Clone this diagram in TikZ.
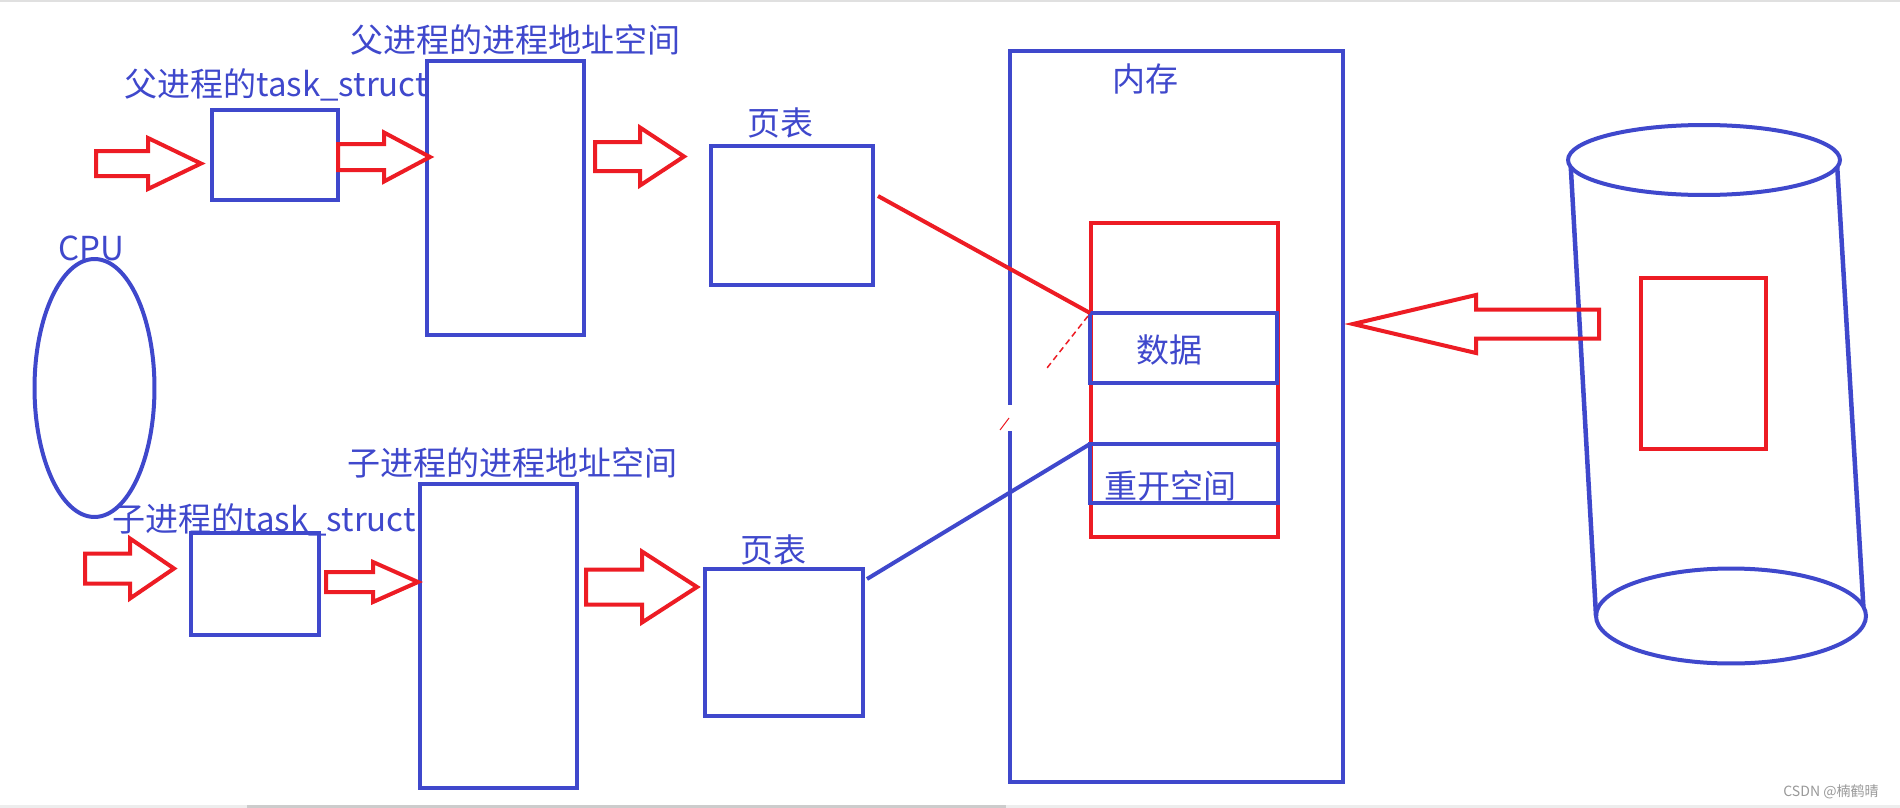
\documentclass[tikz,border=0pt]{standalone}
\usepackage{fontspec}
\newfontfamily\cjk{Noto Sans CJK SC}
\usetikzlibrary{fit,shapes.geometric}
\definecolor{pblue}{HTML}{3F48CC}
\definecolor{pred}{HTML}{ED1C24}
\newcommand\blockarrow[6]{\draw[barrow] (#1,#4-#5) -- (#2,#4-#5) -- (#2,#4-#6) -- (#3,#4) -- (#2,#4+#6) -- (#2,#4+#5) -- (#1,#4+#5) -- cycle;}
\begin{document}
\begin{tikzpicture}[x=0.02cm, y=-0.02cm,
  box/.style={draw=pblue, line width=0.08cm, inner sep=0pt, outer sep=0pt},
  redbox/.style={draw=pred, line width=0.08cm, inner sep=0pt, outer sep=0pt},
  lbl/.style={text=pblue, font=\cjk\fontsize{18.8pt}{22pt}\selectfont, inner sep=0pt, anchor=west},
  barrow/.style={draw=pred, line width=0.08cm, line join=miter},
  oval/.style={draw=pblue, ellipse, line width=0.08cm, inner sep=0pt, outer sep=0pt},
  link/.style={line width=0.08cm},
]
\useasboundingbox (0,0) rectangle (1900,808);
\fill[white] (0,0) rectangle (1900,808);
\fill[black!12] (0,0) rectangle (1900,2);
\fill[black!7] (0,805) rectangle (1900,808);
\fill[black!20] (247,805) rectangle (1006,808);

% memory and its contents
\node[box, fit={(1010,51) (1343,782)}] (mem) {};
\node[redbox, fit={(1091,223) (1278,537)}] (rbox) {};
\node[box, fit={(1090,313) (1277,383)}] (data) {};
\node[box, fit={(1090,444) (1278,503)}] (reopen) {};
\fill[white] (1004,405) rectangle (1016,431);
\draw[pred, line width=0.02cm] (1009,418) -- (1000,430);

% parent
\node[box, fit={(212,110) (338,200)}] (ptask) {};
\node[box, fit={(427,61) (584,335)}] (paddr) {};
\node[box, fit={(711,146) (873,285)}] (ppt) {};
% child
\node[box, fit={(191,533) (319,635)}] (ctask) {};
\node[box, fit={(420,484) (577,788)}] (caddr) {};
\node[box, fit={(705,569) (863,716)}] (cpt) {};

% CPU
\node[oval, minimum width=2.4cm, minimum height=5.16cm] (cpu) at (94.5,388) {};

% disk
\node[oval, minimum width=5.44cm, minimum height=1.4cm] (dtop) at (1704,160) {};
\node[oval, minimum width=5.4cm, minimum height=1.9cm] (dbot) at (1731,616) {};
\draw[pblue, line width=0.09cm] (dtop.183) -- (dbot.west);
\draw[pblue, line width=0.09cm] (dtop.-3) -- (dbot.4);
\node[redbox, fit={(1641,278) (1766,449)}] (drect) {};

% connectors
\draw[link, pred] ([shift={(5,-19.5)}]ppt.east) -- (data.north west);
\draw[pred, line width=0.03cm, dash pattern=on 0.12cm off 0.08cm] ([shift={(-2,3)}]data.north west) -- (1047,368);
\draw[link, pblue] ([shift={(4,10)}]cpt.north east) -- (reopen.north west);

% block arrows
\blockarrow{96}{148}{201}{163.5}{12.5}{25.5}
\blockarrow{338}{384}{430}{157}{13}{24.5}
\blockarrow{595}{640}{684}{156.5}{14.5}{29}
\blockarrow{85}{130}{174}{568.5}{15}{30}
\blockarrow{326}{373}{418}{582}{10}{20}
\blockarrow{586}{642}{697}{587}{17.5}{35.5}
\blockarrow{1599}{1476}{1353}{324}{14.5}{29}

% labels
\node[lbl] (tpaddr) at (350,40) {父进程的进程地址空间};
\node[lbl] (tptask) at (124,85) {父进程的task\_struct};
\node[lbl] (tppt) at (747,123) {页表};
\node[lbl] (tmem) at (1112,79) {内存};
\node[lbl] (tdata) at (1136,350) {数据};
\node[lbl] (treopen) at (1104,486) {重开空间};
\node[lbl] (tcpu) at (58,248) {CPU};
\node[lbl] (tcaddr) at (347,463) {子进程的进程地址空间};
\node[lbl] (tctask) at (112,520) {子进程的task\_struct};
\node[lbl] (tcpt) at (740,550) {页表};
\node[anchor=west, text=black!40, font=\cjk\fontsize{8pt}{9pt}\selectfont, inner sep=0pt] (wm) at (1783,792) {CSDN @楠鹤晴};
\end{tikzpicture}
\end{document}
